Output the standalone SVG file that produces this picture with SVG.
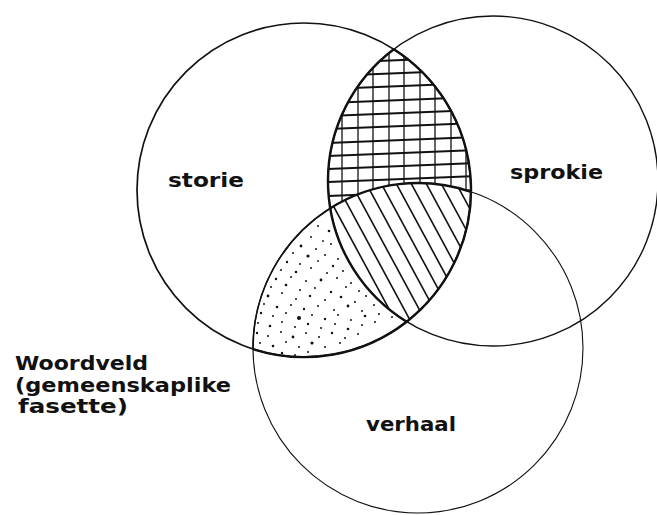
<svg xmlns="http://www.w3.org/2000/svg" width="657" height="515" viewBox="0 0 657 515">
<style>
.bg{fill:#fff}
.ring{fill:none;stroke:#111}
.lens{fill:none;stroke:#111;stroke-width:2.4}
.hz{stroke:#111;stroke-width:2}
.vt{stroke:#111;stroke-width:1.3}
.dg{stroke:#111;stroke-width:1.6}
.dots circle{fill:#111}
text{font-family:"DejaVu Sans","Liberation Sans",sans-serif;font-weight:bold;font-size:20px;fill:#111}
</style>
<defs>
<clipPath id="c1"><circle cx="304" cy="190" r="167"/></clipPath>
<clipPath id="c2"><circle cx="493" cy="181" r="165"/></clipPath>
<clipPath id="c3"><circle cx="418" cy="348" r="165"/></clipPath>
</defs>
<rect class="bg" x="0" y="0" width="657" height="515"/>

<g id="fills">
<!-- grid: storie ∩ sprokie -->
<g clip-path="url(#c1)"><g clip-path="url(#c2)">
<line class="hz" x1="320" y1="63.4" x2="485" y2="56.8"/>
<line class="hz" x1="320" y1="76.4" x2="485" y2="69.8"/>
<line class="hz" x1="320" y1="89.4" x2="485" y2="82.8"/>
<line class="hz" x1="320" y1="103.4" x2="485" y2="96.8"/>
<line class="hz" x1="320" y1="116.4" x2="485" y2="109.8"/>
<line class="hz" x1="320" y1="129.4" x2="485" y2="122.8"/>
<line class="hz" x1="320" y1="143.4" x2="485" y2="136.8"/>
<line class="hz" x1="320" y1="156.4" x2="485" y2="149.8"/>
<line class="hz" x1="320" y1="169.4" x2="485" y2="162.8"/>
<line class="hz" x1="320" y1="182.4" x2="485" y2="175.8"/>
<line class="hz" x1="320" y1="196.4" x2="485" y2="189.8"/>
<line class="vt" x1="342" y1="40" x2="342" y2="330"/>
<line class="vt" x1="358" y1="40" x2="358" y2="330"/>
<line class="vt" x1="373" y1="40" x2="373" y2="330"/>
<line class="vt" x1="389" y1="40" x2="389" y2="330"/>
<line class="vt" x1="404" y1="40" x2="404" y2="330"/>
<line class="vt" x1="420" y1="40" x2="420" y2="330"/>
<line class="vt" x1="435" y1="40" x2="435" y2="330"/>
<line class="vt" x1="451" y1="40" x2="451" y2="330"/>
<line class="vt" x1="466" y1="40" x2="466" y2="330"/>
</g></g>
<!-- stipple: storie ∩ verhaal -->
<g clip-path="url(#c1)"><g clip-path="url(#c3)" class="dots">
<circle cx="318" cy="226" r="1"/><circle cx="329" cy="231" r="1.3"/><circle cx="311" cy="237" r="1"/><circle cx="323" cy="241" r="0.9"/>
<circle cx="301" cy="246" r="1.4"/><circle cx="316" cy="249" r="1"/><circle cx="331" cy="244" r="1"/><circle cx="293" cy="253" r="1"/>
<circle cx="308" cy="256" r="1.6"/><circle cx="325" cy="255" r="1"/><circle cx="338" cy="259" r="1"/><circle cx="287" cy="262" r="1.2"/>
<circle cx="300" cy="264" r="1"/><circle cx="318" cy="261" r="0.9"/><circle cx="333" cy="266" r="1.2"/><circle cx="281" cy="270" r="1"/>
<circle cx="296" cy="272" r="1.3"/><circle cx="311" cy="268" r="1"/><circle cx="327" cy="273" r="1"/><circle cx="343" cy="271" r="1"/>
<circle cx="276" cy="279" r="1.2"/><circle cx="291" cy="277" r="1"/><circle cx="306" cy="281" r="1"/><circle cx="321" cy="280" r="1.4"/>
<circle cx="337" cy="278" r="1"/><circle cx="351" cy="283" r="1"/><circle cx="271" cy="287" r="1"/><circle cx="286" cy="285" r="1.3"/>
<circle cx="300" cy="290" r="1"/><circle cx="315" cy="288" r="1"/><circle cx="331" cy="292" r="1.2"/><circle cx="346" cy="287" r="1"/>
<circle cx="359" cy="291" r="1"/><circle cx="268" cy="296" r="1.4"/><circle cx="282" cy="293" r="1"/><circle cx="296" cy="299" r="1"/>
<circle cx="310" cy="296" r="1.2"/><circle cx="325" cy="300" r="1"/><circle cx="341" cy="297" r="1.3"/><circle cx="355" cy="302" r="1"/>
<circle cx="366" cy="296" r="1"/><circle cx="264" cy="304" r="1"/><circle cx="277" cy="307" r="1.3"/><circle cx="291" cy="305" r="1"/>
<circle cx="304" cy="309" r="1.2"/><circle cx="318" cy="306" r="1"/><circle cx="334" cy="310" r="1"/><circle cx="348" cy="306" r="1.4"/>
<circle cx="362" cy="311" r="1"/><circle cx="374" cy="305" r="1"/><circle cx="261" cy="313" r="1.2"/><circle cx="273" cy="316" r="1"/>
<circle cx="286" cy="313" r="1"/><circle cx="299" cy="318" r="2"/><circle cx="312" cy="315" r="1"/><circle cx="325" cy="319" r="1.2"/>
<circle cx="338" cy="315" r="1"/><circle cx="351" cy="320" r="1"/><circle cx="365" cy="316" r="1.3"/><circle cx="379" cy="314" r="1"/>
<circle cx="392" cy="317" r="1"/><circle cx="258" cy="323" r="1"/><circle cx="270" cy="326" r="1.3"/><circle cx="282" cy="322" r="1"/>
<circle cx="295" cy="327" r="1"/><circle cx="308" cy="324" r="1.2"/><circle cx="321" cy="328" r="1"/><circle cx="335" cy="324" r="1"/>
<circle cx="348" cy="329" r="1.3"/><circle cx="362" cy="325" r="1"/><circle cx="375" cy="322" r="1"/><circle cx="257" cy="333" r="1.2"/>
<circle cx="268" cy="336" r="1"/><circle cx="281" cy="332" r="1"/><circle cx="293" cy="337" r="1.4"/><circle cx="306" cy="333" r="1"/>
<circle cx="319" cy="337" r="1"/><circle cx="332" cy="333" r="1.2"/><circle cx="345" cy="338" r="1"/><circle cx="358" cy="334" r="1"/>
<circle cx="260" cy="343" r="1"/><circle cx="273" cy="346" r="1.3"/><circle cx="286" cy="342" r="1"/><circle cx="299" cy="347" r="1"/>
<circle cx="312" cy="343" r="1.6"/><circle cx="325" cy="347" r="1"/><circle cx="340" cy="343" r="1"/><circle cx="282" cy="353" r="1.2"/>
<circle cx="295" cy="355" r="1"/><circle cx="308" cy="352" r="1"/><circle cx="321" cy="356" r="1.3"/>
</g></g>
<!-- diagonal hatch: storie ∩ sprokie ∩ verhaal -->
<g clip-path="url(#c1)"><g clip-path="url(#c2)"><g clip-path="url(#c3)">
<rect class="bg" x="320" y="175" width="170" height="160"/>
<line class="dg" x1="227" y1="37" x2="407" y2="370"/>
<line class="dg" x1="242" y1="37" x2="422" y2="370"/>
<line class="dg" x1="257" y1="37" x2="437" y2="370"/>
<line class="dg" x1="272" y1="37" x2="452" y2="370"/>
<line class="dg" x1="287" y1="37" x2="467" y2="370"/>
<line class="dg" x1="302" y1="37" x2="482" y2="370"/>
<line class="dg" x1="317" y1="37" x2="497" y2="370"/>
<line class="dg" x1="332" y1="37" x2="512" y2="370"/>
<line class="dg" x1="347" y1="37" x2="527" y2="370"/>
<line class="dg" x1="362" y1="37" x2="542" y2="370"/>
<line class="dg" x1="377" y1="37" x2="557" y2="370"/>
<line class="dg" x1="392" y1="37" x2="572" y2="370"/>
</g></g></g>
</g>

<g id="storie">
<circle class="ring" cx="304" cy="190" r="167" stroke-width="1.7"/>
<text x="168" y="187" textLength="76" lengthAdjust="spacingAndGlyphs">storie</text>
</g>
<g id="sprokie">
<circle class="ring" cx="493" cy="181" r="165" stroke-width="1.4"/>
<text x="510" y="179" textLength="93" lengthAdjust="spacingAndGlyphs">sprokie</text>
</g>
<g id="verhaal">
<circle class="ring" cx="418" cy="348" r="165" stroke-width="1.1"/>
<text x="366" y="431" textLength="90" lengthAdjust="spacingAndGlyphs">verhaal</text>
</g>

<g id="connectors">
<path class="lens" d="M393.8,49.2 A167,167 0 0,1 406.7,321.7"/>
<path class="lens" d="M393.8,49.2 A165,165 0 0,0 406.7,321.7"/>
<path class="lens" d="M330.3,208.3 A165,165 0 0,1 471,191.8"/>
<path class="lens" d="M406.7,321.7 A167,167 0 0,1 253,349.1"/>
<path class="ring" stroke-width="1.6" d="M330.3,208.3 A165,165 0 0,0 253,349.1"/>
</g>

<g id="woordveld">
<text x="15" y="370" textLength="133" lengthAdjust="spacingAndGlyphs">Woordveld</text>
<text x="15" y="392" textLength="216" lengthAdjust="spacingAndGlyphs">(gemeenskaplike</text>
<text x="18" y="413" textLength="110" lengthAdjust="spacingAndGlyphs">fasette)</text>
</g>
</svg>
